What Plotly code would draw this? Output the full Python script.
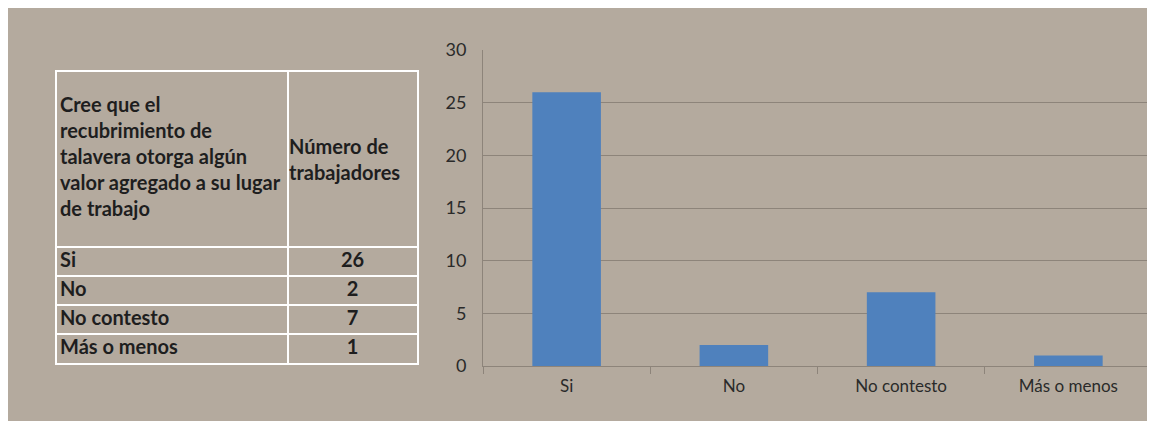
import plotly.graph_objects as go

# datos
categorias = ["Si", "No", "No contesto", "Más o menos"]
trabajadores = [26, 2, 7, 1]
encabezado = ["Cree que el<br>recubrimiento de<br>talavera otorga algún<br>valor agregado a su lugar<br>de trabajo",
              "Número de<br>trabajadores"]
y_ticks = [0, 5, 10, 15, 20, 25, 30]

# la pagina añade 8 px de margen al cuerpo; todo se mide en px de la figura
W, H = 1155, 425
alto_util = 413

def fx(p):
    return (p - 8) / W

def fy(p):
    return (alto_util - (p - 8)) / alto_util

fondo = "#b4aa9e"
rejilla = "#8d847a"
texto = "#1e1e1e"
fuente = "Lato, Open Sans, sans-serif"

# geometria de la tabla (unidades = px)
ancho_cols = [231, 129]
alto_enc = 175
alto_fila = 29
ancho_tabla = sum(ancho_cols)
alto_tabla = alto_enc + alto_fila * len(categorias)
bordes_y = [alto_enc + alto_fila * i for i in range(len(categorias))]
centros_y = [alto_enc + alto_fila * (i + 0.5) for i in range(len(categorias))]

fig = go.Figure()

# barras
fig.add_trace(go.Bar(x=categorias, y=trabajadores,
                     marker=dict(color="#4f81bd", line=dict(width=0)),
                     showlegend=False))

# tabla: encabezado
fig.add_trace(go.Scatter(x=[3, ancho_cols[0] + 1], y=[alto_enc / 2 - 1, alto_enc / 2 + 2],
                         text=["<b>%s</b>" % h for h in encabezado],
                         mode="text", textposition="middle right",
                         textfont=dict(family=fuente, size=20, color=texto),
                         xaxis="x2", yaxis="y2", showlegend=False,
                         hoverinfo="skip", cliponaxis=False))
# tabla: categorias
fig.add_trace(go.Scatter(x=[3] * len(categorias), y=centros_y,
                         text=["<b>%s</b>" % c for c in categorias],
                         mode="text", textposition="middle right",
                         textfont=dict(family=fuente, size=20, color=texto),
                         xaxis="x2", yaxis="y2", showlegend=False,
                         hoverinfo="skip", cliponaxis=False))
# tabla: valores
fig.add_trace(go.Scatter(x=[ancho_cols[0] + ancho_cols[1] / 2] * len(trabajadores), y=centros_y,
                         text=["<b>%d</b>" % v for v in trabajadores],
                         mode="text", textposition="middle center",
                         textfont=dict(family=fuente, size=20, color=texto),
                         xaxis="x2", yaxis="y2", showlegend=False,
                         hoverinfo="skip", cliponaxis=False))

fig.update_layout(
    width=W, height=H,
    margin=dict(l=0, r=0, t=0, b=H - alto_util, autoexpand=False),
    paper_bgcolor="white",
    plot_bgcolor="rgba(0,0,0,0)",
    bargap=0.59,
    shapes=[dict(type="rect", xref="paper", yref="paper",
                 x0=0, x1=1, y0=0, y1=1,
                 fillcolor=fondo, line=dict(width=0), layer="below")],
    xaxis=dict(domain=[fx(483), fx(1152)],
               showline=True, linecolor=rejilla, linewidth=1,
               ticks="outside", tickson="boundaries", ticklen=7,
               tickcolor=rejilla, ticklabelstandoff=5,
               tickfont=dict(family=fuente, size=17, color="#2a2a2a"),
               showgrid=False, fixedrange=True),
    yaxis=dict(domain=[fy(366), fy(50)], range=[0, 30],
               tickvals=y_ticks,
               showline=True, linecolor=rejilla, linewidth=1,
               gridcolor=rejilla, gridwidth=1,
               zeroline=False,
               ticks="", ticklabelstandoff=12,
               tickfont=dict(family=fuente, size=18, color="#2a2a2a"),
               fixedrange=True),
    xaxis2=dict(domain=[fx(57), fx(417)], range=[0, ancho_tabla],
                tickvals=[ancho_cols[0]], showticklabels=False,
                showgrid=True, gridcolor="white", gridwidth=1.5,
                showline=True, mirror=True, linecolor="white", linewidth=1.5,
                zeroline=False, fixedrange=True, anchor="y2"),
    yaxis2=dict(domain=[fy(363), fy(72)], range=[alto_tabla, 0],
                tickvals=bordes_y, showticklabels=False,
                showgrid=True, gridcolor="white", gridwidth=1.5,
                showline=True, mirror=True, linecolor="white", linewidth=1.5,
                zeroline=False, fixedrange=True, anchor="x2"),
)

fig.write_html("out.html")
